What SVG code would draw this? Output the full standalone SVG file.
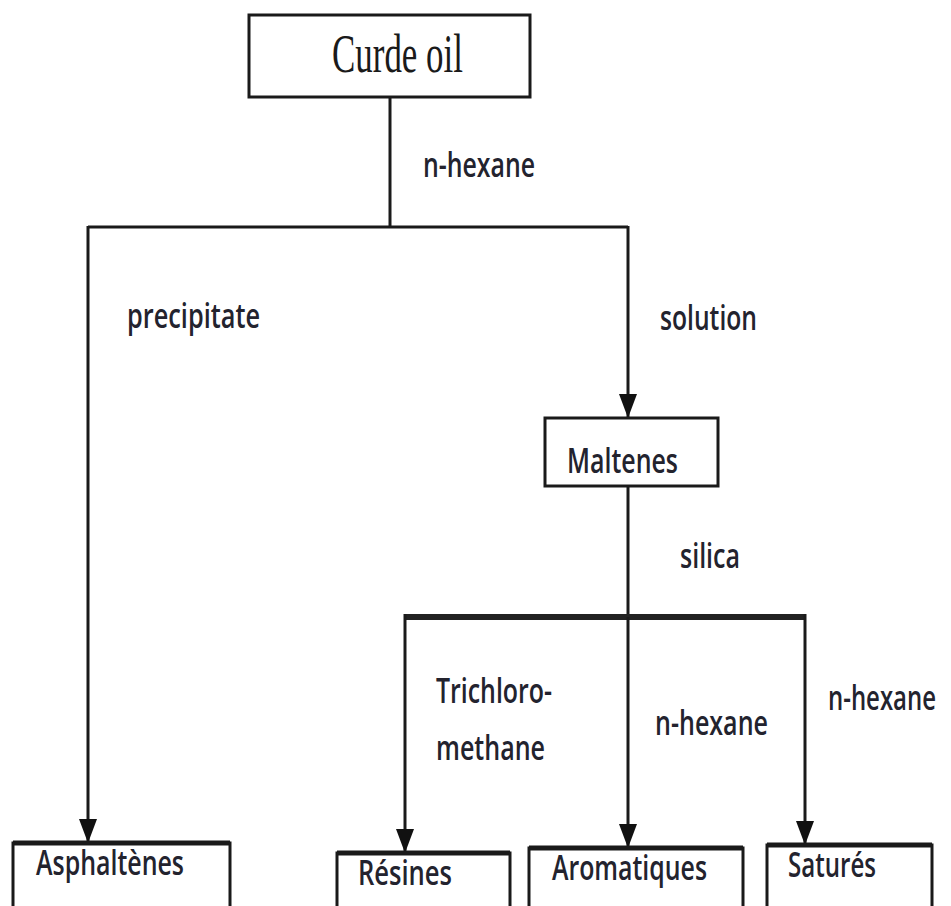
<svg xmlns="http://www.w3.org/2000/svg" width="951" height="906" viewBox="0 0 951 906">
  <defs>
    <marker id="arr" markerUnits="userSpaceOnUse" markerWidth="24" markerHeight="18" viewBox="0 0 24 18" refX="24" refY="9" orient="auto">
      <path d="M0,0 L24,9 L0,18 Z" fill="#111"/>
    </marker>
    <style>
      .box { fill: #fff; stroke: #1a1a1a; stroke-width: 3; }
      .line { fill: none; stroke: #1a1a1a; stroke-width: 3; }
      .bar { fill: none; stroke: #222; stroke-width: 6; }
      .top { fill: none; stroke: #1a1a1a; stroke-width: 5; }
      .lbl { font-family: "Open Sans", "Noto Sans", "Liberation Sans", sans-serif; font-size: 34px; font-weight: 600; fill: #23232e; }
      .ser { font-family: "Liberation Serif", "Times New Roman", serif; font-size: 54px; fill: #1a1a1a; }
    </style>
  </defs>
  <rect width="951" height="906" fill="#fff"/>

  <g id="connectors">
    <path class="line" d="M390,97 V227"/>
    <path class="line" d="M88,227 H628"/>
    <path class="line" d="M88,226 V843" marker-end="url(#arr)"/>
    <path class="line" d="M628,226 V418" marker-end="url(#arr)"/>
    <path class="line" d="M628,486 V618"/>
    <path class="bar" d="M405,617 H805"/>
    <path class="line" d="M405,614 V853" marker-end="url(#arr)"/>
    <path class="line" d="M628,617 V848" marker-end="url(#arr)"/>
    <path class="line" d="M805,614 V845" marker-end="url(#arr)"/>
    <text class="lbl" x="423" y="177" textLength="112" lengthAdjust="spacingAndGlyphs">n-hexane</text>
    <text class="lbl" x="127" y="328" textLength="133" lengthAdjust="spacingAndGlyphs">precipitate</text>
    <text class="lbl" x="660" y="330" textLength="97" lengthAdjust="spacingAndGlyphs">solution</text>
    <text class="lbl" x="680" y="568" textLength="60" lengthAdjust="spacingAndGlyphs">silica</text>
    <text class="lbl" x="436" y="703" textLength="116" lengthAdjust="spacingAndGlyphs">Trichloro-</text>
    <text class="lbl" x="436" y="760" textLength="109" lengthAdjust="spacingAndGlyphs">methane</text>
    <text class="lbl" x="655" y="735" textLength="113" lengthAdjust="spacingAndGlyphs">n-hexane</text>
    <text class="lbl" transform="translate(828,710) scale(0.75,1)" x="0" y="0" textLength="144" lengthAdjust="spacingAndGlyphs">n-hexane</text>
  </g>

  <g id="crude-oil">
    <rect class="box" x="249" y="15" width="281" height="82" stroke-width="4"/>
    <text class="ser" x="332" y="72" textLength="131" lengthAdjust="spacingAndGlyphs">Curde oil</text>
  </g>

  <g id="maltenes">
    <rect class="box" x="545" y="418" width="173" height="68"/>
    <text class="lbl" x="567" y="473" textLength="111" lengthAdjust="spacingAndGlyphs">Maltenes</text>
  </g>

  <g id="asphaltenes">
    <path class="box" d="M13,912 V843 H230 V912"/>
    <path class="top" d="M13,843 H230"/>
    <text class="lbl" x="36" y="875" textLength="148" lengthAdjust="spacingAndGlyphs">Asphaltènes</text>
  </g>

  <g id="resines">
    <path class="box" d="M337,912 V853 H510 V912"/>
    <path class="top" d="M337,853 H510"/>
    <text class="lbl" x="358" y="885" textLength="94" lengthAdjust="spacingAndGlyphs">Résines</text>
  </g>

  <g id="aromatiques">
    <path class="box" d="M529,912 V848 H743 V912"/>
    <path class="top" d="M529,848 H743"/>
    <text class="lbl" x="552" y="880" textLength="155" lengthAdjust="spacingAndGlyphs">Aromatiques</text>
  </g>

  <g id="satures">
    <path class="box" d="M767,912 V845 H932 V912"/>
    <path class="top" d="M767,845 H932"/>
    <text class="lbl" x="788" y="877" textLength="88" lengthAdjust="spacingAndGlyphs">Saturés</text>
  </g>
</svg>
